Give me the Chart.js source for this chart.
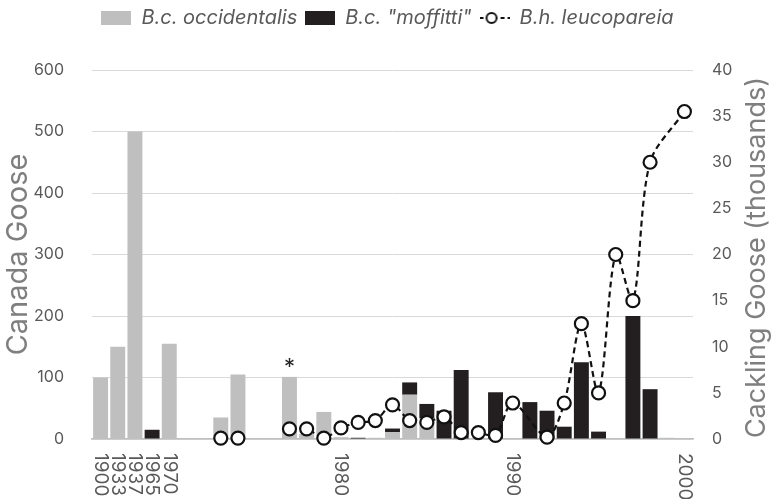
<!DOCTYPE html>
<html>
<head>
<meta charset="utf-8">
<script src="https://cdn.jsdelivr.net/npm/chart.js@4.4.0/dist/chart.umd.min.js"></script>
<style>
html,body{margin:0;padding:0;background:#fff;}
#wrap{width:775px;height:499px;}
</style>
</head>
<body>
<div id="wrap"><canvas id="c" width="775" height="499"></canvas></div>
<script>
// ---- data ----
const categories = ['1900','1933','1937','1965','1970','1971','1972','1973','1974','1975','1976','1977','1978','1979',
  '1980','1981','1982','1983','1984','1985','1986','1987','1988','1989',
  '1990','1991','1992','1993','1994','1995','1996','1997','1998','1999','2000'];
const shownTickLabels = ['1900','1933','1937','1965','1970','1980','1990','2000'];

const occidentalis = [100,150,500,null,155,null,null,35,105,null,null,101,8,44,
  3,null,2,11,72,34,null,null,null,null,
  null,null,null,null,null,null,null,null,null,2,null];
const moffitti = [null,null,null,15,null,null,null,null,null,null,null,null,null,null,
  null,2,null,6,20,23,46,112,null,76,
  null,60,46,20,125,12,null,200,81,null,null];
const leucopareia = [null,null,null,null,null,null,null,0.1,0.1,null,null,1.1,1.1,0.1,
  1.2,1.8,2.0,3.7,2.0,1.8,2.4,0.7,0.7,0.4,
  3.9,null,0.2,3.9,12.5,5.0,20,15,30,null,35.5];
const asteriskCategory = '1977';

const leftTicks = {min:0, max:600, step:100};
const rightTicks = {min:0, max:40, step:5};

// ---- styles ----
const FONT = 'Inter';
const TICK_COLOR = '#595959';
const TITLE_COLOR = '#7f7f7f';
const GRAY = '#bfbfbf';
const BLACK = '#231f20';

Chart.defaults.font.family = FONT;

function makeIcon(kind){
  const cv = document.createElement('canvas');
  cv.width = 30; cv.height = 14;
  const g = cv.getContext('2d');
  if (kind === 'line') {
    g.strokeStyle = '#111'; g.lineWidth = 2;
    g.setLineDash([4,3]);
    g.beginPath(); g.moveTo(0,7); g.lineTo(30,7); g.stroke();
    g.setLineDash([]);
    g.beginPath(); g.arc(12,7,5,0,Math.PI*2); g.fillStyle='#fff'; g.fill(); g.stroke();
  } else {
    g.fillStyle = kind; g.fillRect(0,0,30,14);
  }
  return cv;
}
const legendIcons = [makeIcon(GRAY), makeIcon(BLACK), makeIcon('line')];

// a null inside a run of 2+ missing years breaks the line; single missing years are bridged
function inLongGap(arr, idx){
  if (idx < 0 || idx >= arr.length || arr[idx] !== null) return false;
  let a = idx, b = idx;
  while (a - 1 >= 0 && arr[a - 1] === null) a--;
  while (b + 1 < arr.length && arr[b + 1] === null) b++;
  return (b - a + 1) >= 2;
}

const LEGEND_H = 70;
const layoutPlugin = {
  id: 'layoutPlugin',
  afterInit(chart){
    const lg = chart.legend;
    if (!lg) return;
    const fit = lg.fit;
    lg.fit = function(){ fit.call(this); this.height = LEGEND_H; };
  }
};

const decorPlugin = {
  id: 'decor',
  afterDatasetsDraw(chart){
    const ctx = chart.ctx;
    const meta = chart.getDatasetMeta(0);
    const idx = categories.indexOf(asteriskCategory);
    const el = meta.data[idx];
    if (el) {
      ctx.save();
      ctx.fillStyle = '#222';
      ctx.font = '22px ' + FONT;
      ctx.textAlign = 'center';
      ctx.textBaseline = 'middle';
      ctx.fillText('*', el.x, el.y - 9);
      ctx.restore();
    }
  },
  afterDraw(chart){
    const ctx = chart.ctx;
    const xs = chart.scales.x;
    ctx.save();
    ctx.fillStyle = TICK_COLOR;
    ctx.font = '19px ' + FONT;
    ctx.textAlign = 'left';
    ctx.textBaseline = 'middle';
    categories.forEach((c,i)=>{
      if (!shownTickLabels.includes(c)) return;
      const x = xs.getPixelForValue(i);
      ctx.save();
      ctx.translate(x, chart.chartArea.bottom + 14);
      ctx.rotate(Math.PI/2);
      ctx.fillText(c, 0, 0);
      ctx.restore();
    });
    // right axis title (reads bottom to top)
    const ca = chart.chartArea;
    ctx.save();
    ctx.fillStyle = TITLE_COLOR;
    ctx.font = '27px ' + FONT;
    ctx.textAlign = 'center';
    ctx.textBaseline = 'middle';
    ctx.translate(757, (ca.top + ca.bottom)/2 + 3);
    ctx.rotate(-Math.PI/2);
    ctx.fillText('Cackling Goose (thousands)', 0, 0);
    ctx.restore();
    ctx.restore();
  }
};

new Chart(document.getElementById('c'), {
  data: {
    labels: categories,
    datasets: [
      {type:'bar', label:'B.c. occidentalis', data: occidentalis, backgroundColor: GRAY, yAxisID:'y', stack:'s',
       barPercentage:0.87, categoryPercentage:1, order:1},
      {type:'bar', label:'B.c. "moffitti"', data: moffitti, backgroundColor: BLACK, yAxisID:'y', stack:'s',
       barPercentage:0.87, categoryPercentage:1, order:1},
      {type:'line', label:'B.h. leucopareia', data: leucopareia, yAxisID:'y1', order:0,
       borderColor:'#111', borderWidth:2.2, borderDash:[6,4], tension:0.3, spanGaps:true, clip:false,
       pointRadius:6.5, pointBackgroundColor:'#fff', pointBorderColor:'#111', pointBorderWidth:2.2,
       segment:{ borderColor: ctx => ((inLongGap(leucopareia, ctx.p0DataIndex) || inLongGap(leucopareia, ctx.p1DataIndex)) ? 'rgba(0,0,0,0)' : undefined) }}
    ]
  },
  options: {
    responsive:false,
    animation:false,
    layout:{padding:{top:0,left:0,right:0,bottom:0}},
    plugins:{
      tooltip:{enabled:false},
      legend:{
        display:true, position:'top',
        labels:{
          usePointStyle:true, pointStyleWidth:30, boxHeight:14, padding:8,
          color:TICK_COLOR, font:{size:20, style:'italic', family:FONT},
          generateLabels: (chart) => chart.data.datasets.map((ds,i)=>({
            text: ds.label, pointStyle: legendIcons[i], fillStyle:'rgba(0,0,0,0)', strokeStyle:'rgba(0,0,0,0)',
            lineWidth:0, hidden:false, datasetIndex:i, fontColor:TICK_COLOR
          }))
        }
      }
    },
    scales:{
      x:{
        type:'category', stacked:true, offset:true,
        grid:{display:false, drawTicks:false},
        border:{display:true, color:GRAY, width:1.5},
        ticks:{display:false},
        afterFit: s => { s.height = 60; }
      },
      y:{
        position:'left', stacked:true, min:leftTicks.min, max:leftTicks.max,
        ticks:{stepSize:leftTicks.step, color:TICK_COLOR, font:{size:16}, padding:28},
        grid:{color:'#d9d9d9', lineWidth:1, drawTicks:false},
        border:{display:false},
        title:{display:true, text:'Canada Goose', color:TITLE_COLOR, font:{size:29}, padding:{top:1,bottom:4}},
        afterFit: s => { s.width = 92; }
      },
      y1:{
        position:'right', stacked:false, min:rightTicks.min, max:rightTicks.max,
        ticks:{stepSize:rightTicks.step, color:TICK_COLOR, font:{size:16}, padding:19},
        grid:{drawOnChartArea:false, drawTicks:false},
        border:{display:false},
        afterFit: s => { s.width = 82; }
      }
    }
  },
  plugins:[layoutPlugin, decorPlugin]
});
</script>
</body>
</html>
